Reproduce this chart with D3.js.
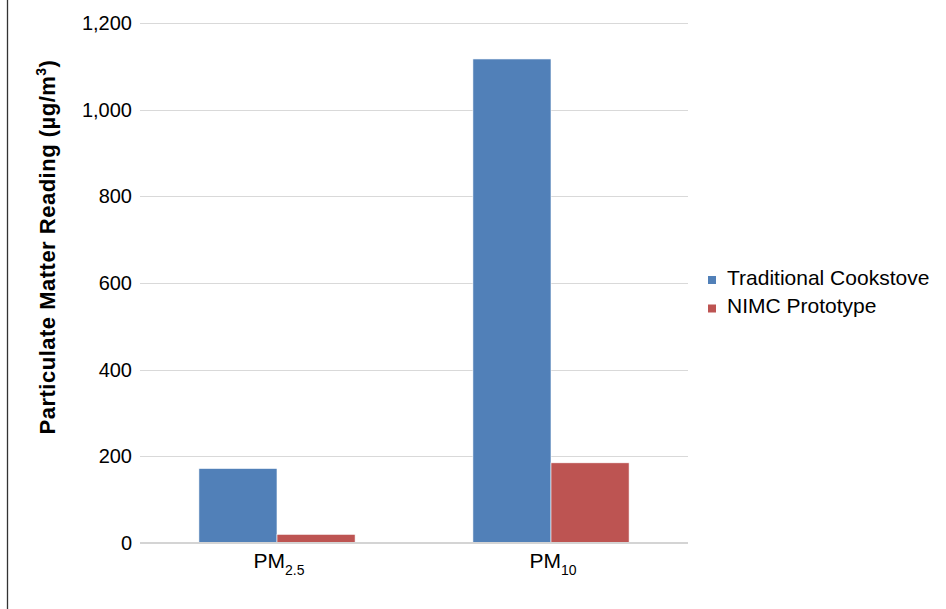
<!DOCTYPE html>
<html lang="en">
<head>
<meta charset="utf-8">
<title>Particulate matter</title>
<script src="https://d3js.org/d3.v7.min.js"></script>
<style>
  body { margin: 0; background: #fff; }
  svg { display: block; font-family: Arial, "Liberation Sans", sans-serif; }
</style>
</head>
<body>
<script>
var categories = ["PM2.5", "PM10"];
var catBase = ["PM", "PM"];
var catSub = ["2.5", "10"];
var seriesNames = ["Traditional Cookstove", "NIMC Prototype"];
var traditional = [172, 1117];
var nimc = [20, 185];
var yTicks = [0, 200, 400, 600, 800, 1000, 1200];
var colors = ["#5180b8", "#bd5452"];

var width = 946, height = 609;
var plotLeft = 140, plotRight = 688, plotTop = 23, plotBottom = 543;

var svg = d3.select("body").append("svg")
    .attr("width", width)
    .attr("height", height);

// left frame edge
svg.append("line")
    .attr("x1", 7.5).attr("x2", 7.5)
    .attr("y1", 0).attr("y2", height)
    .attr("stroke", "#333").attr("stroke-width", 1.3);

var y = d3.scaleLinear().domain([0, 1200]).range([plotBottom, plotTop]);
var x0 = d3.scaleBand().domain(categories).range([plotLeft, plotRight])
    .paddingInner(0.43).paddingOuter(0.215);
var x1 = d3.scaleBand().domain(seriesNames).range([0, x0.bandwidth()]);

// gridlines
svg.append("g")
    .selectAll("line")
    .data(yTicks.filter(function(d) { return d > 0; }))
    .enter().append("line")
    .attr("x1", plotLeft).attr("x2", plotRight)
    .attr("y1", function(d) { return Math.round(y(d)) + 0.5; })
    .attr("y2", function(d) { return Math.round(y(d)) + 0.5; })
    .attr("stroke", "#d9d9d9").attr("stroke-width", 1.2);

// y axis labels
var yAxis = svg.append("g")
    .attr("transform", "translate(" + plotLeft + ",0)")
    .call(d3.axisLeft(y).tickValues(yTicks).tickSize(0).tickPadding(8)
      .tickFormat(d3.format(",")));
yAxis.select(".domain").remove();
yAxis.selectAll("text")
    .attr("font-size", 20)
    .attr("font-family", "Arial, 'Liberation Sans', sans-serif")
    .attr("fill", "#000");

// bars
var rows = categories.map(function(c, i) {
  return { cat: c, vals: [traditional[i], nimc[i]] };
});

svg.append("g")
    .selectAll("g")
    .data(rows)
    .enter().append("g")
    .attr("transform", function(d) { return "translate(" + x0(d.cat) + ",0)"; })
    .selectAll("rect")
    .data(function(d) { return d.vals.map(function(v, j) { return { name: seriesNames[j], v: v, j: j }; }); })
    .enter().append("rect")
    .attr("x", function(d) { return x1(d.name); })
    .attr("width", x1.bandwidth())
    .attr("y", function(d) { return y(d.v); })
    .attr("height", function(d) { return plotBottom - y(d.v); })
    .attr("fill", function(d) { return colors[d.j]; })
    .attr("stroke", "#fff").attr("stroke-width", 0.6);

// x axis line
svg.append("line")
    .attr("x1", plotLeft).attr("x2", plotRight)
    .attr("y1", plotBottom).attr("y2", plotBottom)
    .attr("stroke", "#d4d4d4").attr("stroke-width", 2);

// x labels with subscripts
var xl = svg.append("g")
    .selectAll("text")
    .data(categories)
    .enter().append("text")
    .attr("x", function(d) { return x0(d) + x0.bandwidth() / 2 + 2; })
    .attr("y", 568)
    .attr("text-anchor", "middle")
    .attr("font-size", 21)
    .attr("fill", "#000");
xl.append("tspan").text(function(d, i) { return catBase[i]; });
xl.append("tspan")
    .attr("font-size", 14)
    .attr("dy", 7)
    .text(function(d, i) { return catSub[i]; });

// y title
var yt = svg.append("text")
    .attr("transform", "translate(55,247) rotate(-90)")
    .attr("text-anchor", "middle")
    .attr("font-size", 22)
    .attr("letter-spacing", 0.5)
    .attr("font-weight", "bold")
    .attr("fill", "#000");
yt.append("tspan").text("Particulate Matter Reading (µg/m");
yt.append("tspan").attr("font-size", 14).attr("dy", -9).text("3");
yt.append("tspan").attr("dy", 9).text(")");

// legend
var lg = svg.append("g")
    .selectAll("g")
    .data(seriesNames)
    .enter().append("g")
    .attr("transform", function(d, i) { return "translate(708," + (276 + i * 28.5) + ")"; });
lg.append("rect")
    .attr("width", 8).attr("height", 8)
    .attr("fill", function(d, i) { return colors[i]; });
lg.append("text")
    .attr("x", 19).attr("y", 8.5)
    .attr("font-size", 21)
    .attr("fill", "#000")
    .text(function(d) { return d; });
</script>
</body>
</html>
